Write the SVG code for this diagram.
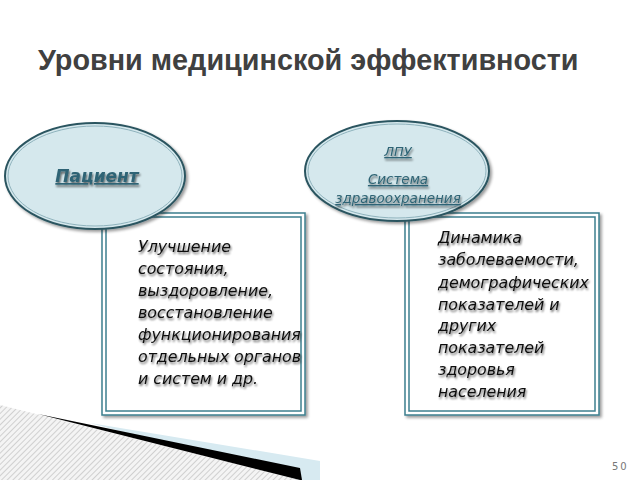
<svg xmlns="http://www.w3.org/2000/svg" width="640" height="480" viewBox="0 0 640 480">
<style>
.title{font-family:"Liberation Sans",Arial,sans-serif;font-weight:bold;font-size:28.8px;fill:#404040}
.ell{fill:#d5e8ed;stroke:#2c5560;stroke-width:2}
.ellin{fill:none;stroke:#8fb3bd;stroke-width:1}
.etxt{font-family:"DejaVu Sans",sans-serif;font-style:italic;fill:#2f6474;text-decoration:underline;text-anchor:middle}
.box{fill:#fff;stroke:#3c7f8e;stroke-width:1.5}
.boxin{fill:none;stroke:#3c7f8e;stroke-width:1.5}
.btxt{font-family:"DejaVu Sans",sans-serif;font-style:italic;font-size:15.8px;fill:#111}
.pg{font-family:"DejaVu Sans",sans-serif;font-size:10px;fill:#777;letter-spacing:2px}
</style>
<defs>
<pattern id="hatch" width="4" height="4" patternUnits="userSpaceOnUse" patternTransform="rotate(45)">
<rect width="4" height="4" fill="#f4f4f4"/>
<line x1="0" y1="0" x2="0" y2="4" stroke="#b8b8b8" stroke-width="1.2"/>
</pattern>
<filter id="sh" x="-10%" y="-10%" width="130%" height="130%">
<feGaussianBlur in="SourceAlpha" stdDeviation="1.5"/>
<feOffset dx="1.5" dy="2" result="b"/>
<feComponentTransfer><feFuncA type="linear" slope="0.4"/></feComponentTransfer>
<feMerge><feMergeNode/><feMergeNode in="SourceGraphic"/></feMerge>
</filter>
<filter id="tsh" x="-5%" y="-20%" width="110%" height="150%">
<feGaussianBlur in="SourceAlpha" stdDeviation="0.9"/>
<feOffset dx="1.2" dy="1.6"/>
<feComponentTransfer><feFuncA type="linear" slope="0.6"/></feComponentTransfer>
<feMerge><feMergeNode/><feMergeNode in="SourceGraphic"/></feMerge>
</filter>
</defs>
<rect width="640" height="480" fill="#fff"/>

<g id="decor">
<polygon points="0,405 300,480 0,480" fill="url(#hatch)"/>
<polygon points="90,423 320,461 320,480 300,480" fill="#d7eaf1"/>
<polygon points="38,414 300,468 302,480 300,480" fill="#000"/>
</g>

<text class="title" x="38" y="70">Уровни медицинской эффективности</text>

<g id="box1">
<rect class="box" x="102" y="213" width="203" height="202" filter="url(#sh)"/>
<rect class="boxin" x="106" y="217" width="195" height="194"/>
<g class="btxt" filter="url(#tsh)">
<text x="138" y="252">Улучшение</text>
<text x="138" y="274">состояния,</text>
<text x="138" y="296">выздоровление,</text>
<text x="138" y="318">восстановление</text>
<text x="138" y="340">функционирования</text>
<text x="138" y="362">отдельных органов</text>
<text x="138" y="384">и систем и др.</text>
</g>
</g>

<g id="box2">
<rect class="box" x="405" y="213" width="194" height="202" filter="url(#sh)"/>
<rect class="boxin" x="409" y="217" width="186" height="194"/>
<g class="btxt" filter="url(#tsh)">
<text x="438" y="243">Динамика</text>
<text x="438" y="265">заболеваемости,</text>
<text x="438" y="288">демографических</text>
<text x="438" y="310">показателей и</text>
<text x="438" y="331">других</text>
<text x="438" y="353">показателей</text>
<text x="438" y="375">здоровья</text>
<text x="438" y="397">населения</text>
</g>
</g>

<g id="ellipse1">
<ellipse class="ell" cx="95" cy="176" rx="90" ry="53" filter="url(#sh)"/>
<ellipse class="ellin" cx="95" cy="176" rx="87" ry="50"/>
<text class="etxt" x="97" y="182" font-size="17" font-weight="bold" filter="url(#tsh)">Пациент</text>
</g>

<g id="ellipse2">
<ellipse class="ell" cx="397" cy="171" rx="92" ry="50" filter="url(#sh)"/>
<ellipse class="ellin" cx="397" cy="171" rx="89" ry="47"/>
<text class="etxt" x="398" y="156" font-size="13" filter="url(#tsh)">ЛПУ</text>
<text class="etxt" x="398" y="184" font-size="13.5" filter="url(#tsh)">Система</text>
<text class="etxt" x="398" y="203" font-size="13.5" filter="url(#tsh)">здравоохранения</text>
</g>

<g id="connectors"></g>

<text class="pg" x="612" y="470">50</text>
</svg>
